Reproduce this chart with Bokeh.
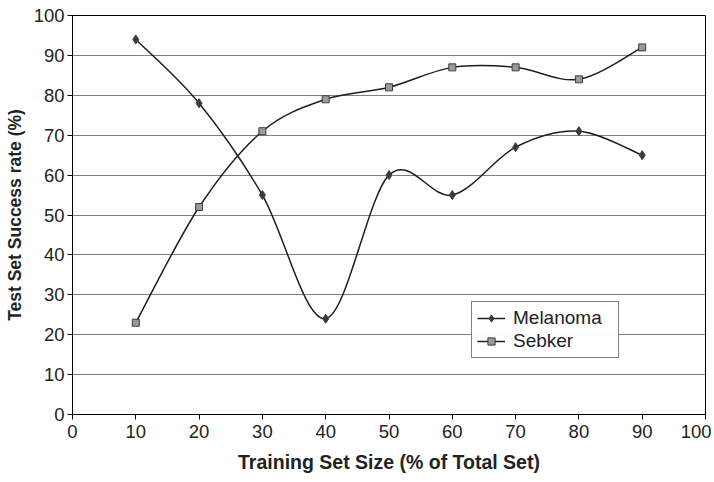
import numpy as np
from bokeh.plotting import figure
from bokeh.models import Legend, LegendItem, Range1d, FixedTicker
from bokeh.embed import file_html
from bokeh.resources import INLINE

x_vals = [10, 20, 30, 40, 50, 60, 70, 80, 90]
melanoma = [94, 78, 55, 24, 60, 55, 67, 71, 65]
sebker = [23, 52, 71, 79, 82, 87, 87, 84, 92]
ticks = [0, 10, 20, 30, 40, 50, 60, 70, 80, 90, 100]

FONT = "Liberation Sans"

p = figure(width=711, height=482, output_backend="svg", toolbar_location=None,
           x_range=Range1d(0, 100), y_range=Range1d(0, 100),
           min_border_left=72, min_border_right=6, min_border_top=15, min_border_bottom=68)
p.outline_line_color = "black"
p.outline_line_width = 1
p.xgrid.visible = False
p.ygrid.grid_line_color = "#808080"
p.ygrid.grid_line_width = 1
p.background_fill_color = "white"

for ax in (p.xaxis, p.yaxis):
    ax.ticker = FixedTicker(ticks=ticks)
    ax.minor_tick_line_color = None
    ax.major_tick_in = 0
    ax.major_tick_out = 5
    ax.axis_line_color = "black"
    ax.major_tick_line_color = "black"
    ax.major_label_text_font = FONT
    ax.major_label_text_font_size = "18.5px"
    ax.major_label_text_color = "#222222"
    ax.axis_label_text_font = FONT
    ax.axis_label_text_font_style = "bold"
    ax.axis_label_text_color = "#222222"

p.xaxis.axis_label = "Training Set Size (% of Total Set)"
p.yaxis.axis_label = "Test Set Success rate (%)"
p.xaxis.axis_label_text_font_size = "19.5px"
p.yaxis.axis_label_text_font_size = "17.5px"
p.xaxis.major_label_standoff = 5
p.yaxis.major_label_standoff = 3
p.xaxis.axis_label_standoff = 10
p.yaxis.axis_label_standoff = 6


def smooth(xs, ys):
    xs = np.asarray(xs, float)
    ys = np.asarray(ys, float)
    xp = np.concatenate([[xs[0]], xs, [xs[-1]]])
    yp = np.concatenate([[ys[0]], ys, [ys[-1]]])
    n = len(xs)
    d = dict(x0=[], y0=[], x1=[], y1=[], cx0=[], cy0=[], cx1=[], cy1=[])
    for i in range(n - 1):
        a, b, c, e = i, i + 1, i + 2, i + 3
        d["x0"].append(xp[b]); d["y0"].append(yp[b])
        d["x1"].append(xp[c]); d["y1"].append(yp[c])
        d["cx0"].append(xp[b] + (xp[c] - xp[a]) / 6)
        d["cy0"].append(yp[b] + (yp[c] - yp[a]) / 6)
        d["cx1"].append(xp[c] - (xp[e] - xp[b]) / 6)
        d["cy1"].append(yp[c] - (yp[e] - yp[b]) / 6)
    return d


dm = smooth(x_vals, melanoma)
ds = smooth(x_vals, sebker)
bm = p.bezier(x0=dm["x0"], y0=dm["y0"], x1=dm["x1"], y1=dm["y1"],
              cx0=dm["cx0"], cy0=dm["cy0"], cx1=dm["cx1"], cy1=dm["cy1"],
              line_color="#1e1e1e", line_width=1.5)
bs = p.bezier(x0=ds["x0"], y0=ds["y0"], x1=ds["x1"], y1=ds["y1"],
              cx0=ds["cx0"], cy0=ds["cy0"], cx1=ds["cx1"], cy1=ds["cy1"],
              line_color="#1e1e1e", line_width=1.5)
sm = p.scatter(x_vals, melanoma, marker="diamond", size=9,
               fill_color="#3a3a3a", line_color="#3a3a3a", line_width=1)
ss = p.scatter(x_vals, sebker, marker="square", size=7,
               fill_color="#9a9a9a", line_color="#3a3a3a", line_width=1)

legend = Legend(items=[LegendItem(label="Melanoma", renderers=[bm, sm]),
                       LegendItem(label="Sebker", renderers=[bs, ss])],
                location=(399, 56))
legend.label_text_font = FONT
legend.label_text_font_size = "19px"
legend.label_text_color = "#222222"
legend.border_line_color = "black"
legend.border_line_width = 1
legend.glyph_width = 28
legend.glyph_height = 18
legend.label_height = 18
legend.label_width = 100
legend.label_standoff = 8
legend.spacing = 1
legend.padding = 5
legend.margin = 0
p.add_layout(legend, "center")

open("out.html", "w").write(file_html(p, INLINE))
